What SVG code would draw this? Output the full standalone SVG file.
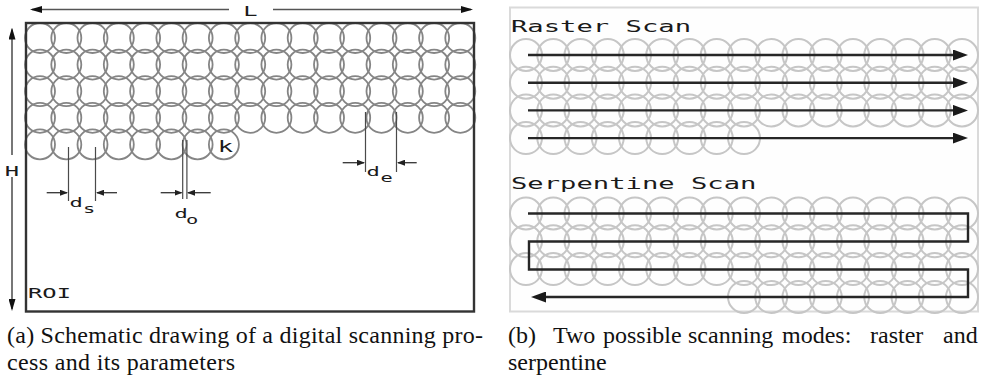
<svg xmlns="http://www.w3.org/2000/svg" width="985" height="380" viewBox="0 0 985 380">
<style>
  .spot-a { fill: none; stroke: #858585; stroke-width: 1.8; }
  .spot-b { fill: none; stroke: #c6c6c6; stroke-width: 2; }
  .mono { font-family: "DejaVu Sans Mono", "Liberation Mono", monospace; fill: #1a1a1a; }
  .cap { font-family: "Liberation Serif", "DejaVu Serif", serif; font-size: 24px; fill: #111; }
  .ext { stroke: #4a4a4a; stroke-width: 1.2; fill: none; }
  .dimarrow { stroke: #333; stroke-width: 1.3; fill: none; marker-end: url(#tipS); }
  .measure { stroke: #555; stroke-width: 1.6; fill: none; marker-end: url(#tipM); }
  .scanpath { stroke: #262626; stroke-width: 2.4; fill: none; marker-end: url(#tipB); }
</style>
<defs>
  <marker id="tipB" viewBox="0 0 15 11" refX="9" refY="5.5" markerWidth="15" markerHeight="11" markerUnits="userSpaceOnUse" orient="auto">
    <path d="M0,0 L15,5.5 L0,11 z" fill="#1a1a1a"/>
  </marker>
  <marker id="tipM" viewBox="0 0 12 7" refX="10" refY="3.5" markerWidth="12" markerHeight="7" markerUnits="userSpaceOnUse" orient="auto">
    <path d="M0,0 L12,3.5 L0,7 z" fill="#111"/>
  </marker>
  <marker id="tipS" viewBox="0 0 8 6" refX="7" refY="3" markerWidth="8" markerHeight="6" markerUnits="userSpaceOnUse" orient="auto">
    <path d="M0,0 L8,3 L0,6 z" fill="#222"/>
  </marker>

  <!-- spot rows for the ROI sketch (r = 15, pitch 26.27) -->
  <g id="a8">
    <circle cx="40" cy="0" r="15"/>
    <circle cx="66.3" cy="0" r="15"/>
    <circle cx="92.5" cy="0" r="15"/>
    <circle cx="118.8" cy="0" r="15"/>
    <circle cx="145.1" cy="0" r="15"/>
    <circle cx="171.4" cy="0" r="15"/>
    <circle cx="197.6" cy="0" r="15"/>
    <circle cx="223.9" cy="0" r="15"/>
  </g>
  <g id="a17">
    <use href="#a8"/>
    <circle cx="250.2" cy="0" r="15"/>
    <circle cx="276.4" cy="0" r="15"/>
    <circle cx="302.7" cy="0" r="15"/>
    <circle cx="329" cy="0" r="15"/>
    <circle cx="355.2" cy="0" r="15"/>
    <circle cx="381.5" cy="0" r="15"/>
    <circle cx="407.8" cy="0" r="15"/>
    <circle cx="434.1" cy="0" r="15"/>
    <circle cx="460.3" cy="0" r="15"/>
  </g>

  <!-- spot rows for the scan-mode panel (r = 16, pitch 27.25) -->
  <g id="b9">
    <circle cx="526" cy="0" r="16"/>
    <circle cx="553.25" cy="0" r="16"/>
    <circle cx="580.5" cy="0" r="16"/>
    <circle cx="607.75" cy="0" r="16"/>
    <circle cx="635" cy="0" r="16"/>
    <circle cx="662.25" cy="0" r="16"/>
    <circle cx="689.5" cy="0" r="16"/>
    <circle cx="716.75" cy="0" r="16"/>
    <circle cx="744" cy="0" r="16"/>
  </g>
  <g id="b8r">
    <circle cx="771.25" cy="0" r="16"/>
    <circle cx="798.5" cy="0" r="16"/>
    <circle cx="825.75" cy="0" r="16"/>
    <circle cx="853" cy="0" r="16"/>
    <circle cx="880.25" cy="0" r="16"/>
    <circle cx="907.5" cy="0" r="16"/>
    <circle cx="934.75" cy="0" r="16"/>
    <circle cx="962" cy="0" r="16"/>
  </g>
  <g id="b17">
    <use href="#b9"/>
    <use href="#b8r"/>
  </g>
</defs>

<rect x="0" y="0" width="985" height="380" fill="#fff"/>

<!-- (a) region of interest with scan spots -->
<g id="roi">
  <g id="spots-a" class="spot-a">
    <use href="#a17" y="38"/>
    <use href="#a17" y="64.6"/>
    <use href="#a17" y="91.2"/>
    <use href="#a17" y="117.8"/>
    <use href="#a8" y="144.4"/>
  </g>
  <rect x="26" y="23" width="448" height="288.5" fill="none" stroke="#333" stroke-width="2.4"/>
  <text class="mono" font-size="14" transform="translate(28,298) scale(1.7,1)">ROI</text>
  <text class="mono" font-size="15" text-anchor="middle" transform="translate(225.5,152) scale(1.7,1)">k</text>
</g>

<g id="dimension-lines">
  <path class="measure" d="M229,9.5 H32"/>
  <path class="measure" d="M273,9.5 H471"/>
  <path class="measure" d="M12,155 V29.5"/>
  <path class="measure" d="M12,177 V309"/>
  <path class="ext" d="M68.5,147 V201 M95.5,147 V201"/>
  <path class="ext" d="M182.7,140 V199 M186.9,140 V199"/>
  <path class="ext" d="M365.5,112 V172 M396.5,112 V172"/>
  <path class="dimarrow" d="M46.7,192.7 H67"/>
  <path class="dimarrow" d="M117,192.7 H97"/>
  <path class="dimarrow" d="M160.7,192.7 H181.5"/>
  <path class="dimarrow" d="M210.7,192.7 H188"/>
  <path class="dimarrow" d="M342.7,162.7 H364"/>
  <path class="dimarrow" d="M416.7,162.7 H398"/>
</g>

<g id="dimension-labels" class="mono">
  <text font-size="14" text-anchor="middle" transform="translate(250.5,16) scale(1.7,1)">L</text>
  <text font-size="14" text-anchor="middle" transform="translate(12,175.5) scale(1.7,1)">H</text>
  <text font-size="13" transform="translate(69.5,207) scale(1.7,1)">d</text>
  <text font-size="12" transform="translate(83,212.5) scale(1.7,1)">s</text>
  <text font-size="13" transform="translate(174.5,218) scale(1.7,1)">d</text>
  <text font-size="12" transform="translate(186,223.5) scale(1.7,1)">o</text>
  <text font-size="13" transform="translate(366.5,175.5) scale(1.7,1)">d</text>
  <text font-size="12" transform="translate(380.5,182) scale(1.7,1)">e</text>
</g>

<!-- (b) raster and serpentine scan modes -->
<g id="scan-modes">
  <rect x="510" y="7.5" width="468" height="304" fill="#fefefe" stroke="#dadada" stroke-width="2"/>

  <g id="raster">
    <text class="mono" font-size="16" transform="translate(511,31.5) scale(1.7,1)">Raster Scan</text>
    <g class="spot-b">
      <use href="#b17" y="55"/>
      <use href="#b17" y="82.7"/>
      <use href="#b17" y="110.4"/>
      <use href="#b9" y="138.1"/>
    </g>
  </g>

  <g id="serpentine">
    <text class="mono" font-size="16" transform="translate(511,188.5) scale(1.7,1)">Serpentine Scan</text>
    <g class="spot-b">
      <use href="#b17" y="213.5"/>
      <use href="#b17" y="241.3"/>
      <use href="#b17" y="269.1"/>
      <circle cx="744" cy="296.9" r="16"/>
      <use href="#b8r" y="296.9"/>
    </g>
  </g>

  <g id="scan-paths">
    <path class="scanpath" d="M528,55 H962"/>
    <path class="scanpath" d="M528,82.7 H962"/>
    <path class="scanpath" d="M528,110.4 H962"/>
    <path class="scanpath" d="M528,138.1 H962"/>
    <path class="scanpath" d="M528,213.5 H968 V241.5 H529 V269.5 H968 V297 H537"/>
  </g>
</g>

<!-- captions -->
<g id="captions" class="cap">
  <text x="7" y="343" textLength="476" lengthAdjust="spacing">(a) Schematic drawing of a digital scanning pro-</text>
  <text x="7" y="370" textLength="228" lengthAdjust="spacing">cess and its parameters</text>
  <text y="343"><tspan x="508">(b)</tspan><tspan x="553">Two</tspan><tspan x="603">possible</tspan><tspan x="688">scanning</tspan><tspan x="782">modes:</tspan><tspan x="870">raster</tspan><tspan x="943">and</tspan></text>
  <text x="508" y="370">serpentine</text>
</g>
</svg>
